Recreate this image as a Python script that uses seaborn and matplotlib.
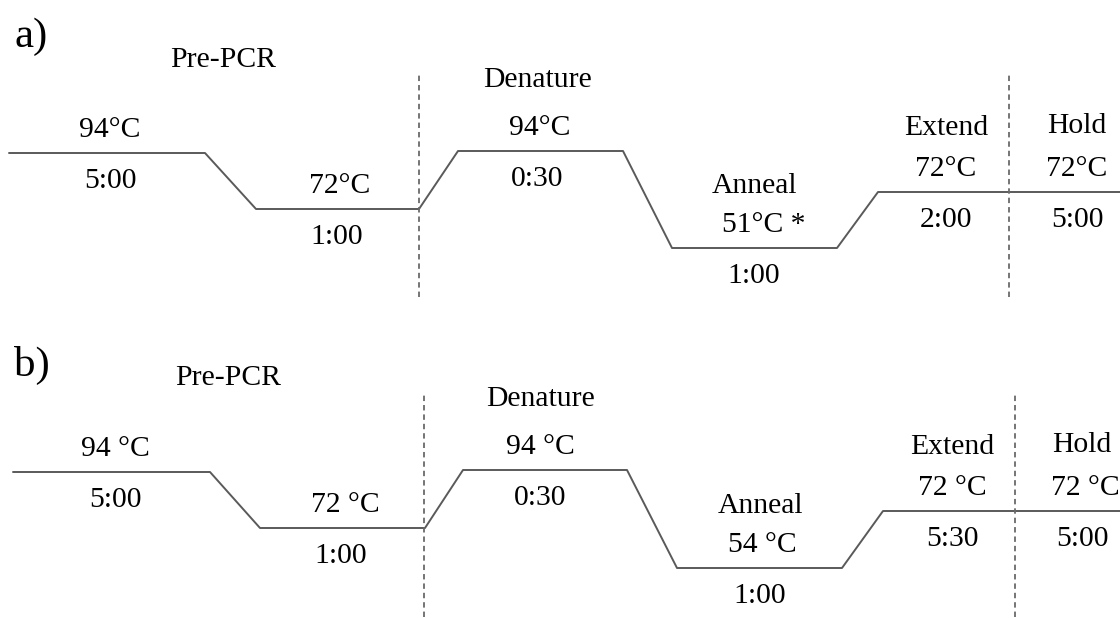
import matplotlib
matplotlib.use("Agg")
import matplotlib.pyplot as plt
import seaborn as sns
import pandas as pd

sns.set_theme(style="white")
plt.rcParams["font.family"] = ["Liberation Serif", "DejaVu Serif"]

# ---- thermal cycling programmes -------------------------------------------
stage_names = ["", "", "Denature", "Anneal", "Extend", "Hold"]

# a) original programme
temps_a = ["94°C", "72°C", "94°C", "51°C *", "72°C", "72°C"]
times_a = ["5:00", "1:00", "0:30", "1:00", "2:00", "5:00"]
plateau_start_a = [9, 256, 458, 672, 878, 1009]
plateau_end_a = [205, 419, 623, 837, 1009, 1120]
plateau_level_a = [156, 100, 158, 61, 117, 117]
cycle_bounds_a = [419, 1009]

# b) modified programme
temps_b = ["94 °C", "72 °C", "94 °C", "54 °C", "72 °C", "72 °C"]
times_b = ["5:00", "1:00", "0:30", "1:00", "5:30", "5:00"]
plateau_start_b = [13, 260, 463, 677, 883, 1015]
plateau_end_b = [210, 425, 627, 842, 1015, 1120]
plateau_level_b = [146, 90, 148, 50, 107, 107]
cycle_bounds_b = [424, 1015]

# ---- layout ----------------------------------------------------------------
W, H, DPI = 1120, 618, 100
PANEL_H = 309
LINE_COLOR = "#5a5a5a"
TEXT_SIZE = 21.3
CAP_HALF = 10           # half cap height of the label font, in axis units
TEMP_RISE = 26
TIME_DROP = 25
NAME_RISE = [0, 0, 74, 65, 67, 69]

panels = [
    dict(letter="a)", temps=temps_a, times=times_a, start=plateau_start_a,
         end=plateau_end_a, level=plateau_level_a, bounds=cycle_bounds_a,
         rect=[0, PANEL_H / H, 1, PANEL_H / H],
         label_x=[110, 337, 537, 754, 946, 1077], temp_dx=[0, 3, 3, 10, 0, 0],
         letter_y=262, pre_xy=(223, 242), bound_span=(12, 236)),
    dict(letter="b)", temps=temps_b, times=times_b, start=plateau_start_b,
         end=plateau_end_b, level=plateau_level_b, bounds=cycle_bounds_b,
         rect=[0, 0, 1, PANEL_H / H],
         label_x=[115, 341, 540, 760, 952, 1082], temp_dx=[0, 4, 0, 2, 0, 3],
         letter_y=242, pre_xy=(228, 233), bound_span=(1, 225)),
]

fig = plt.figure(figsize=(W / DPI, H / DPI), dpi=DPI)

for p in panels:
    ax = fig.add_axes(p["rect"])
    ax.set_xlim(0, W)
    ax.set_ylim(0, PANEL_H)
    ax.set_axis_off()

    # temperature profile: each plateau contributes its start and end point
    rows = []
    for s, e, lv in zip(p["start"], p["end"], p["level"]):
        rows.append({"t": s, "level": lv})
        rows.append({"t": e, "level": lv})
    profile = pd.DataFrame(rows)
    sns.lineplot(data=profile, x="t", y="level", sort=False, estimator=None,
                 color=LINE_COLOR, linewidth=1.4, ax=ax)

    # cycle boundaries
    lo, hi = p["bound_span"]
    for xb in p["bounds"]:
        ax.plot([xb, xb], [lo, hi], color="#6a6a6a", linewidth=1.3,
                linestyle=(0, (3, 2.2)))

    # panel letter and Pre-PCR heading
    ax.text(14, p["letter_y"], p["letter"], fontsize=31, ha="left",
            va="baseline", color="black")
    ax.text(p["pre_xy"][0], p["pre_xy"][1], "Pre-PCR", fontsize=TEXT_SIZE,
            ha="center", va="baseline", color="black")

    for i, (lv, tmp, tm) in enumerate(zip(p["level"], p["temps"], p["times"])):
        x = p["label_x"][i]
        ax.text(x + p["temp_dx"][i], lv + TEMP_RISE - CAP_HALF, tmp,
                fontsize=TEXT_SIZE, ha="center", va="baseline", color="black")
        ax.text(x, lv - TIME_DROP - CAP_HALF, tm, fontsize=TEXT_SIZE,
                ha="center", va="baseline", color="black")
        if stage_names[i]:
            ax.text(x, lv + NAME_RISE[i] - CAP_HALF, stage_names[i],
                    fontsize=TEXT_SIZE, ha="center", va="baseline",
                    color="black")

fig.savefig("out.png", dpi=DPI, facecolor="white")
